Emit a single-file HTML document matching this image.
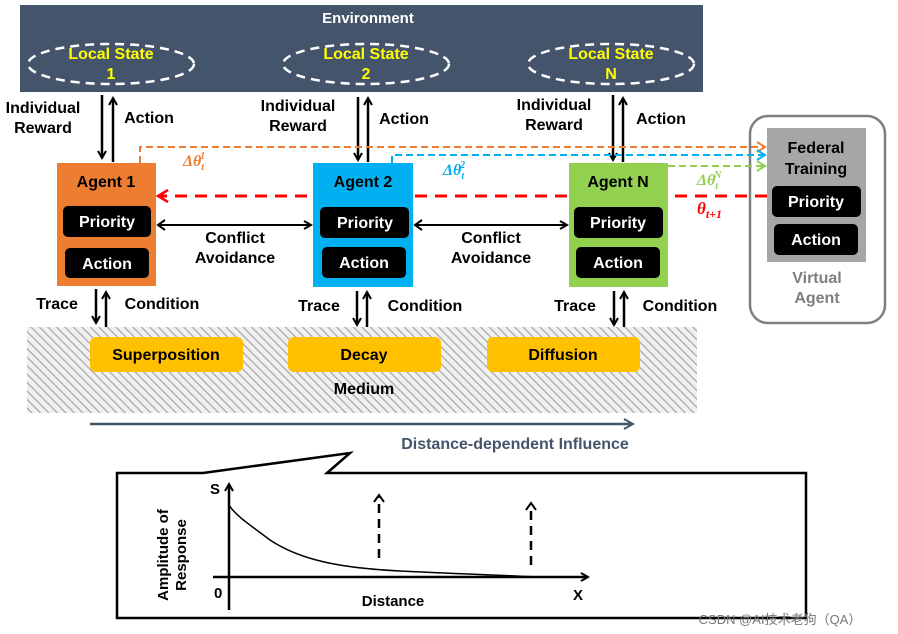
<!DOCTYPE html>
<html><head><meta charset="utf-8"><style>
html,body{margin:0;padding:0;background:#fff;width:898px;height:634px;overflow:hidden}
text{font-family:"Liberation Sans",sans-serif;font-weight:bold}
</style></head><body>
<svg width="898" height="634" viewBox="0 0 898 634" xmlns="http://www.w3.org/2000/svg">
<defs>
<pattern id="h" width="6" height="6" patternUnits="userSpaceOnUse" patternTransform="rotate(-45)">
<rect width="6" height="6" fill="#f0f0f0"/><line x1="0" y1="0" x2="0" y2="6" stroke="#a8a8a8" stroke-width="2.5"/></pattern>
<marker id="ab" markerWidth="10" markerHeight="10" refX="8" refY="5" orient="auto" markerUnits="userSpaceOnUse"><path d="M1,1 L8,5 L1,9" fill="none" stroke="#000" stroke-width="2"/></marker>
<marker id="ao" markerWidth="12" markerHeight="12" refX="9" refY="6" orient="auto" markerUnits="userSpaceOnUse"><path d="M1,1 L9,6 L1,11" fill="none" stroke="#ed7d31" stroke-width="2"/></marker>
<marker id="ac" markerWidth="12" markerHeight="12" refX="9" refY="6" orient="auto" markerUnits="userSpaceOnUse"><path d="M1,1 L9,6 L1,11" fill="none" stroke="#00b0f0" stroke-width="2"/></marker>
<marker id="ag" markerWidth="12" markerHeight="12" refX="9" refY="6" orient="auto" markerUnits="userSpaceOnUse"><path d="M1,1 L9,6 L1,11" fill="none" stroke="#92d050" stroke-width="2"/></marker>
<marker id="ar" markerWidth="14" markerHeight="14" refX="11" refY="7" orient="auto" markerUnits="userSpaceOnUse"><path d="M1,1 L11,7 L1,13" fill="none" stroke="#f00" stroke-width="2.5"/></marker>
<marker id="an" markerWidth="12" markerHeight="12" refX="10" refY="6" orient="auto" markerUnits="userSpaceOnUse"><path d="M1,1 L10,6 L1,11" fill="none" stroke="#44546a" stroke-width="2"/></marker>
</defs>
<!-- Environment -->
<rect x="20" y="5" width="683" height="87" fill="#44546a"/>
<text x="368" y="23" fill="#fff" font-size="15" text-anchor="middle">Environment</text>
<g fill="none" stroke="#fff" stroke-width="2.5" stroke-dasharray="9,6">
<ellipse cx="111" cy="64" rx="83" ry="20"/><ellipse cx="366" cy="64" rx="83" ry="20"/><ellipse cx="611" cy="64" rx="83" ry="20"/></g>
<g fill="#ffff00" font-size="16" text-anchor="middle">
<text x="111" y="59">Local State</text><text x="111" y="79">1</text>
<text x="366" y="59">Local State</text><text x="366" y="79">2</text>
<text x="611" y="59">Local State</text><text x="611" y="79">N</text></g>
<!-- reward/action arrows -->
<g stroke="#000" stroke-width="2.5">
<line x1="102" y1="95" x2="102" y2="158" marker-end="url(#ab)"/><line x1="113" y1="162" x2="113" y2="98" marker-end="url(#ab)"/>
<line x1="358" y1="97" x2="358" y2="160" marker-end="url(#ab)"/><line x1="368" y1="162" x2="368" y2="98" marker-end="url(#ab)"/>
<line x1="613" y1="95" x2="613" y2="160" marker-end="url(#ab)"/><line x1="623" y1="162" x2="623" y2="98" marker-end="url(#ab)"/>
</g>
<g font-size="16" text-anchor="middle" fill="#000">
<text x="43" y="113">Individual</text><text x="43" y="133">Reward</text><text x="149" y="123">Action</text>
<text x="298" y="111">Individual</text><text x="298" y="131">Reward</text><text x="404" y="124">Action</text>
<text x="554" y="110">Individual</text><text x="554" y="130">Reward</text><text x="661" y="124">Action</text>
</g>
<!-- virtual agent -->
<rect x="750" y="116" width="135" height="207" rx="18" fill="#fff" stroke="#7f7f7f" stroke-width="2.5"/>
<rect x="767" y="128" width="99" height="134" fill="#a6a6a6"/>
<g font-size="16" text-anchor="middle"><text x="816" y="153">Federal</text><text x="816" y="174">Training</text></g>
<rect x="772" y="186" width="89" height="31" rx="5" fill="#000"/><rect x="774" y="224" width="84" height="31" rx="5" fill="#000"/>
<g font-size="16" text-anchor="middle" fill="#fff"><text x="816" y="207">Priority</text><text x="816" y="245">Action</text></g>
<g font-size="16" text-anchor="middle" fill="#7f7f7f"><text x="817" y="283">Virtual</text><text x="817" y="303">Agent</text></g>
<!-- dashed federated lines -->
<polyline points="140,163 140,147 765,147" fill="none" stroke="#ed7d31" stroke-width="2" stroke-dasharray="7,4" marker-end="url(#ao)"/>
<polyline points="392,163 392,155 765,155" fill="none" stroke="#00b0f0" stroke-width="2" stroke-dasharray="7,4" marker-end="url(#ac)"/>
<line x1="668" y1="166" x2="765" y2="166" stroke="#92d050" stroke-width="2" stroke-dasharray="7,4" marker-end="url(#ag)"/>
<line x1="767" y1="196" x2="158" y2="196" stroke="#f00" stroke-width="3" stroke-dasharray="12,8" marker-end="url(#ar)"/>
<g font-style="italic">
<text x="183" y="166" fill="#ed7d31" font-size="16" style="font-family:'Liberation Serif'">Δθ<tspan font-size="10" dy="4">t</tspan><tspan font-size="10" dy="-11" dx="-4">1</tspan></text>
<text x="443" y="175" fill="#00b0f0" font-size="16" style="font-family:'Liberation Serif'">Δθ<tspan font-size="10" dy="4">t</tspan><tspan font-size="10" dy="-11" dx="-4">2</tspan></text>
<text x="697" y="185" fill="#92d050" font-size="16" style="font-family:'Liberation Serif'">Δθ<tspan font-size="10" dy="4">t</tspan><tspan font-size="10" dy="-11" dx="-4">N</tspan></text>
<text x="697" y="214" fill="#f00" font-size="17" style="font-family:'Liberation Serif'">θ<tspan font-size="12" dy="4">t+1</tspan></text>
</g>
<!-- agents -->
<rect x="57" y="163" width="99" height="123" fill="#ed7d31"/>
<rect x="313" y="163" width="100" height="124" fill="#00b0f0"/>
<rect x="569" y="163" width="99" height="124" fill="#92d050"/>
<g font-size="16" text-anchor="middle" fill="#000">
<text x="106" y="187">Agent 1</text><text x="363" y="187">Agent 2</text><text x="618" y="187">Agent N</text></g>
<g fill="#000">
<rect x="63" y="206" width="88" height="31" rx="5"/><rect x="65" y="248" width="84" height="30" rx="5"/>
<rect x="320" y="207" width="89" height="31" rx="5"/><rect x="322" y="247" width="84" height="31" rx="5"/>
<rect x="574" y="207" width="89" height="31" rx="5"/><rect x="576" y="247" width="84" height="31" rx="5"/></g>
<g font-size="16" text-anchor="middle" fill="#fff">
<text x="107" y="227">Priority</text><text x="107" y="269">Action</text>
<text x="365" y="228">Priority</text><text x="364" y="268">Action</text>
<text x="618" y="228">Priority</text><text x="618" y="268">Action</text></g>
<!-- conflict arrows -->
<g stroke="#000" stroke-width="2"><line x1="158" y1="225" x2="311" y2="225" marker-end="url(#ab)"/>
<line x1="415" y1="225" x2="567" y2="225" marker-end="url(#ab)"/></g>
<path d="M165,220 L158,225 L165,230" fill="none" stroke="#000" stroke-width="2"/>
<path d="M422,220 L415,225 L422,230" fill="none" stroke="#000" stroke-width="2"/>
<g font-size="16" text-anchor="middle"><text x="235" y="243">Conflict</text><text x="235" y="263">Avoidance</text>
<text x="491" y="243">Conflict</text><text x="491" y="263">Avoidance</text></g>
<!-- medium -->
<rect x="27" y="327" width="670" height="86" fill="url(#h)"/>
<g stroke="#000" stroke-width="2.5">
<line x1="96" y1="289" x2="96" y2="323" marker-end="url(#ab)"/><line x1="106" y1="327" x2="106" y2="292" marker-end="url(#ab)"/>
<line x1="357" y1="291" x2="357" y2="325" marker-end="url(#ab)"/><line x1="367" y1="327" x2="367" y2="292" marker-end="url(#ab)"/>
<line x1="614" y1="291" x2="614" y2="325" marker-end="url(#ab)"/><line x1="624" y1="327" x2="624" y2="292" marker-end="url(#ab)"/>
</g>
<g font-size="16" text-anchor="middle"><text x="57" y="309">Trace</text><text x="162" y="309">Condition</text>
<text x="319" y="311">Trace</text><text x="425" y="311">Condition</text>
<text x="575" y="311">Trace</text><text x="680" y="311">Condition</text></g>
<g fill="#ffc000"><rect x="90" y="337" width="153" height="35" rx="6"/><rect x="288" y="337" width="153" height="35" rx="6"/><rect x="487" y="337" width="153" height="35" rx="6"/></g>
<g font-size="16" text-anchor="middle"><text x="166" y="360">Superposition</text><text x="364" y="360">Decay</text><text x="563" y="360">Diffusion</text>
<text x="364" y="394">Medium</text></g>
<line x1="90" y1="424" x2="633" y2="424" stroke="#44546a" stroke-width="2.5" marker-end="url(#an)"/>
<text x="515" y="449" font-size="16" text-anchor="middle" fill="#44546a">Distance-dependent Influence</text>
<!-- bottom box -->
<path d="M117,618 L117,473 L203,473 L350,453 L327,473 L806,473 L806,618 Z" fill="#fff" stroke="#000" stroke-width="2.5"/>
<line x1="229" y1="610" x2="229" y2="484" stroke="#000" stroke-width="2.5" marker-end="url(#ab)"/>
<line x1="213" y1="577" x2="588" y2="577" stroke="#000" stroke-width="2.5" marker-end="url(#ab)"/>
<path d="M229,505 C235,515 250,525 270,540 C300,560 340,568 400,571 C460,574 500,575 535,577" fill="none" stroke="#000" stroke-width="1.5"/>
<g stroke="#000" stroke-width="2.5"><line x1="379" y1="558" x2="379" y2="497" stroke-dasharray="9,6"/><line x1="531" y1="565" x2="531" y2="505" stroke-dasharray="9,6"/></g>
<path d="M374,502 L379,495 L384,502 M526,510 L531,503 L536,510" fill="none" stroke="#000" stroke-width="2"/>
<g font-size="15"><text x="210" y="494">S</text><text x="214" y="598">0</text><text x="573" y="600">X</text>
<text x="393" y="606" text-anchor="middle">Distance</text>
<text transform="translate(168,555) rotate(-90)" text-anchor="middle">Amplitude of</text>
<text transform="translate(186,555) rotate(-90)" text-anchor="middle">Response</text></g>
<text x="780" y="624" font-size="13" fill="#777" text-anchor="middle" style="font-weight:normal;font-family:'Liberation Sans','Noto Sans CJK SC',sans-serif">CSDN @AI技术老狗（QA）</text>
</svg>
</body></html>
